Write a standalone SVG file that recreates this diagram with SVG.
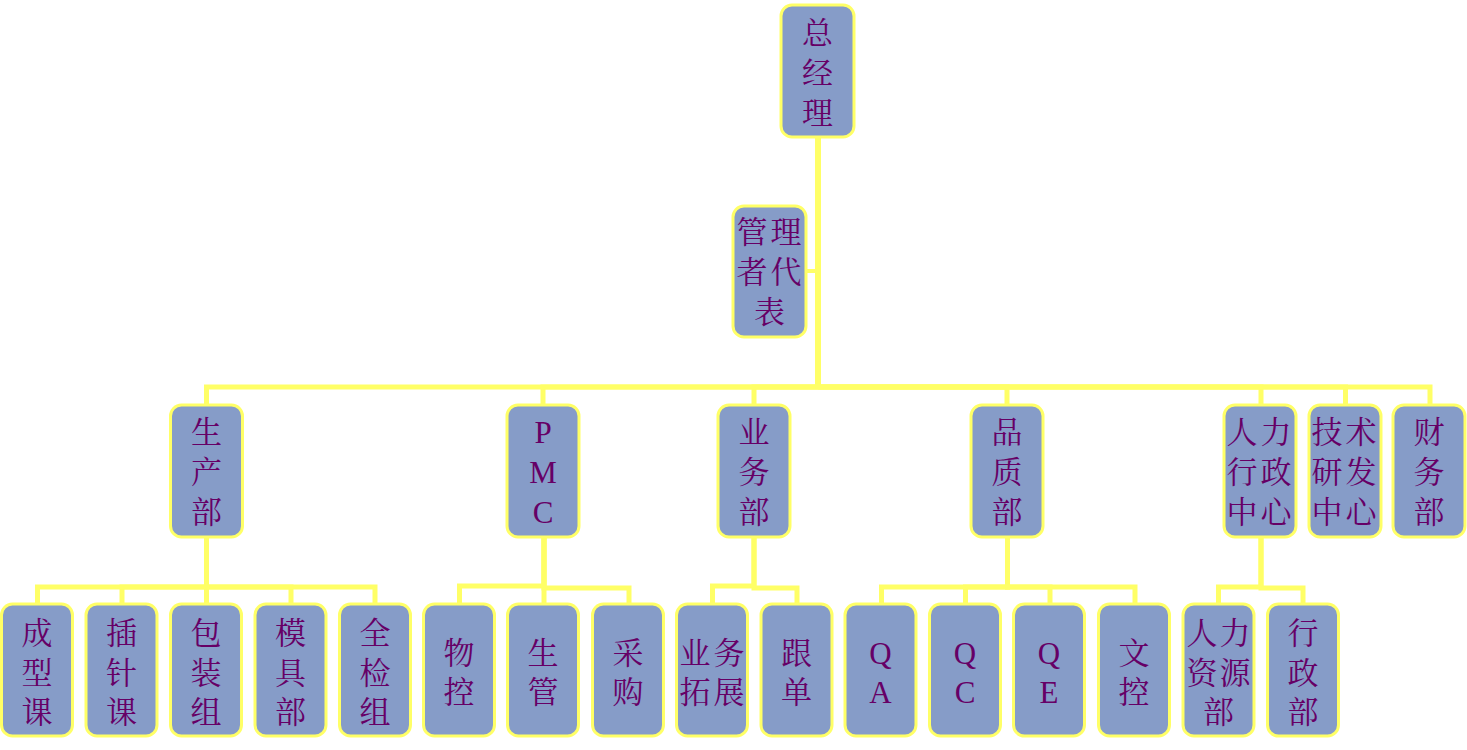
<svg xmlns="http://www.w3.org/2000/svg" width="1467" height="750" viewBox="0 0 1467 750">
<style>
.box{fill:#869CC8;stroke:#FFFF66;stroke-width:3}
.conn{fill:none;stroke:#FFFF66;stroke-width:5;stroke-linejoin:miter;stroke-linecap:butt}
.t{font-family:"Liberation Serif","Noto Serif CJK SC","Noto Sans CJK SC",serif;font-size:31px;fill:#660066;text-anchor:middle}
.l{font-family:"Liberation Serif","Noto Sans CJK SC",serif;font-size:31px;fill:#660066;text-anchor:middle}
</style>
<rect width="1467" height="750" fill="#FFFFFF"/>
<g id="connectors">
<path class="conn" d="M818 137V387" style="stroke-width:6"/>
<path class="conn" d="M806 271H818" style="stroke-width:4"/>
<path class="conn" d="M818 387H206.5V405"/>
<path class="conn" d="M818 387H543V405"/>
<path class="conn" d="M818 387H754V405"/>
<path class="conn" d="M818 387H1007V405"/>
<path class="conn" d="M818 387H1261V405"/>
<path class="conn" d="M818 387H1345.5V405"/>
<path class="conn" d="M818 387H1430V405"/>
<path class="conn" d="M206.5 537V587H37.5V604"/>
<path class="conn" d="M206.5 537V587H122V604"/>
<path class="conn" d="M206.5 537V604"/>
<path class="conn" d="M206.5 537V587H291V604"/>
<path class="conn" d="M206.5 537V587H375V604"/>
<path class="conn" d="M544 537V586H459.5V604"/>
<path class="conn" d="M544 537V604"/>
<path class="conn" d="M544 537V588H629V604"/>
<path class="conn" d="M754 537V586H712.5V604"/>
<path class="conn" d="M754 537V588H797V604"/>
<path class="conn" d="M1007.5 537V587H881.5V604"/>
<path class="conn" d="M1007.5 537V587H965.5V604"/>
<path class="conn" d="M1007.5 537V587H1050V604"/>
<path class="conn" d="M1007.5 537V587H1135V604"/>
<path class="conn" d="M1261 537V587H1218.5V604"/>
<path class="conn" d="M1261 537V588H1303V604"/>
</g>
<g id="n-zongjingli"><rect class="box" x="781" y="5" width="73" height="132" rx="11"/><text class="t" x="817.5" y="44">总</text><text class="t" x="817.5" y="84">经</text><text class="t" x="817.5" y="124">理</text></g>
<g id="n-guanlizhedaibiao"><rect class="box" x="733" y="206" width="73" height="131" rx="11"/><text class="t" x="752 786" y="243">管理</text><text class="t" x="752 786" y="283">者代</text><text class="t" x="769.5" y="323">表</text></g>
<g id="n-shengchanbu"><rect class="box" x="170.5" y="405" width="72" height="132" rx="11"/><text class="t" x="206.5" y="443">生</text><text class="t" x="206.5" y="483">产</text><text class="t" x="206.5" y="523">部</text></g>
<g id="n-pmc"><rect class="box" x="507" y="405" width="72" height="132" rx="11"/><text class="l" x="543" y="443">P</text><text class="l" x="543" y="483">M</text><text class="l" x="543" y="523">C</text></g>
<g id="n-yewubu"><rect class="box" x="718" y="405" width="72" height="132" rx="11"/><text class="t" x="754" y="443">业</text><text class="t" x="754" y="483">务</text><text class="t" x="754" y="523">部</text></g>
<g id="n-pinzhibu"><rect class="box" x="971" y="405" width="72" height="132" rx="11"/><text class="t" x="1007" y="443">品</text><text class="t" x="1007" y="483">质</text><text class="t" x="1007" y="523">部</text></g>
<g id="n-renlixingzheng"><rect class="box" x="1224" y="405" width="72" height="132" rx="11"/><text class="t" x="1242 1276" y="443">人力</text><text class="t" x="1242 1276" y="483">行政</text><text class="t" x="1242 1276" y="523">中心</text></g>
<g id="n-jishuyanfa"><rect class="box" x="1309" y="405" width="72" height="132" rx="11"/><text class="t" x="1327 1361" y="443">技术</text><text class="t" x="1327 1361" y="483">研发</text><text class="t" x="1327 1361" y="523">中心</text></g>
<g id="n-caiwubu"><rect class="box" x="1393" y="405" width="72" height="132" rx="11"/><text class="t" x="1429" y="443">财</text><text class="t" x="1429" y="483">务</text><text class="t" x="1429" y="523">部</text></g>
<g id="n-chengxingke"><rect class="box" x="1.5" y="604" width="71" height="132" rx="11"/><text class="t" x="37" y="644">成</text><text class="t" x="37" y="684">型</text><text class="t" x="37" y="723">课</text></g>
<g id="n-chazhenke"><rect class="box" x="86" y="604" width="71" height="132" rx="11"/><text class="t" x="121.5" y="644">插</text><text class="t" x="121.5" y="684">针</text><text class="t" x="121.5" y="723">课</text></g>
<g id="n-baozhuangzu"><rect class="box" x="170.5" y="604" width="71" height="132" rx="11"/><text class="t" x="206" y="644">包</text><text class="t" x="206" y="684">装</text><text class="t" x="206" y="723">组</text></g>
<g id="n-mojubu"><rect class="box" x="255" y="604" width="71" height="132" rx="11"/><text class="t" x="290.5" y="644">模</text><text class="t" x="290.5" y="684">具</text><text class="t" x="290.5" y="723">部</text></g>
<g id="n-quanjianzu"><rect class="box" x="339.5" y="604" width="71" height="132" rx="11"/><text class="t" x="375" y="644">全</text><text class="t" x="375" y="684">检</text><text class="t" x="375" y="723">组</text></g>
<g id="n-wukong"><rect class="box" x="423.5" y="604" width="71" height="132" rx="11"/><text class="t" x="459" y="664">物</text><text class="t" x="459" y="703">控</text></g>
<g id="n-shengguan"><rect class="box" x="507.5" y="604" width="71" height="132" rx="11"/><text class="t" x="543" y="664">生</text><text class="t" x="543" y="703">管</text></g>
<g id="n-caigou"><rect class="box" x="592.5" y="604" width="71" height="132" rx="11"/><text class="t" x="628" y="664">采</text><text class="t" x="628" y="703">购</text></g>
<g id="n-yewutuozhan"><rect class="box" x="676.5" y="604" width="71" height="132" rx="11"/><text class="t" x="695 729" y="664">业务</text><text class="t" x="695 729" y="703">拓展</text></g>
<g id="n-gendan"><rect class="box" x="761" y="604" width="71" height="132" rx="11"/><text class="t" x="796.5" y="664">跟</text><text class="t" x="796.5" y="703">单</text></g>
<g id="n-qa"><rect class="box" x="845" y="604" width="71" height="132" rx="11"/><text class="l" x="880.5" y="664">Q</text><text class="l" x="880.5" y="703">A</text></g>
<g id="n-qc"><rect class="box" x="929.5" y="604" width="71" height="132" rx="11"/><text class="l" x="965" y="664">Q</text><text class="l" x="965" y="703">C</text></g>
<g id="n-qe"><rect class="box" x="1013.5" y="604" width="71" height="132" rx="11"/><text class="l" x="1049" y="664">Q</text><text class="l" x="1049" y="703">E</text></g>
<g id="n-wenkong"><rect class="box" x="1098.5" y="604" width="71" height="132" rx="11"/><text class="t" x="1134" y="664">文</text><text class="t" x="1134" y="703">控</text></g>
<g id="n-renliziyuanbu"><rect class="box" x="1183" y="604" width="71" height="132" rx="11"/><text class="t" x="1202 1235" y="644">人力</text><text class="t" x="1202 1235" y="684">资源</text><text class="t" x="1218.5" y="723">部</text></g>
<g id="n-xingzhengbu"><rect class="box" x="1267.5" y="604" width="71" height="132" rx="11"/><text class="t" x="1303" y="644">行</text><text class="t" x="1303" y="684">政</text><text class="t" x="1303" y="723">部</text></g>
</svg>
